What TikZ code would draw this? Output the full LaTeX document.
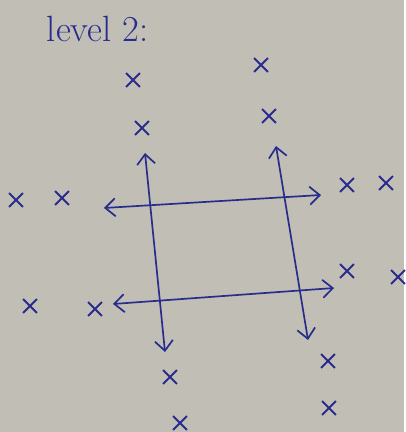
\documentclass[tikz,border=0pt]{standalone}
\usepackage{tikz}
\usetikzlibrary{shapes.misc, arrows.meta}
\definecolor{ink}{RGB}{40,44,140}
\definecolor{paper}{RGB}{192,190,181}
\begin{document}
\begin{tikzpicture}[x=0.025cm, y=-0.025cm,
  xmark/.style={cross out, draw=ink, line width=1.3pt, minimum size=0.3cm, inner sep=0pt},
  arrow/.style={<->, >={Straight Barb[length=2.5mm, width=4.5mm]}, draw=ink, line width=1.2pt}
]
  \fill[paper] (0,0) rectangle (404,432);
  \node[text=ink, font=\fontsize{26}{30}\selectfont, anchor=base west] (title) at (42,42) {level 2:};

  % crosses
  \node[xmark] (t1) at (133,80) {};
  \node[xmark] (t2) at (261,65) {};
  \node[xmark] (t3) at (142,128) {};
  \node[xmark] (t4) at (269,116) {};
  \node[xmark] (l1) at (16,200) {};
  \node[xmark] (l2) at (62,198) {};
  \node[xmark] (r1) at (347,185) {};
  \node[xmark] (r2) at (386,183) {};
  \node[xmark] (l3) at (30,306) {};
  \node[xmark] (l4) at (95,309) {};
  \node[xmark] (r3) at (347,271) {};
  \node[xmark] (r4) at (398,277) {};
  \node[xmark] (b1) at (170,377) {};
  \node[xmark] (b2) at (328,361) {};
  \node[xmark] (b3) at (180,423) {};
  \node[xmark] (b4) at (329,408) {};

  % arrow ends
  \coordinate (vl top) at (145,153);
  \coordinate (vl bot) at (165,352);
  \coordinate (vr top) at (276,146);
  \coordinate (vr bot) at (308,340);
  \coordinate (ht left) at (104,208);
  \coordinate (ht right) at (321,195);
  \coordinate (hb left) at (113,304);
  \coordinate (hb right) at (334,288);

  \draw[arrow] (vl top) -- (vl bot);
  \draw[arrow] (vr top) -- (vr bot);
  \draw[arrow] (ht left) -- (ht right);
  \draw[arrow] (hb left) -- (hb right);
\end{tikzpicture}
\end{document}
